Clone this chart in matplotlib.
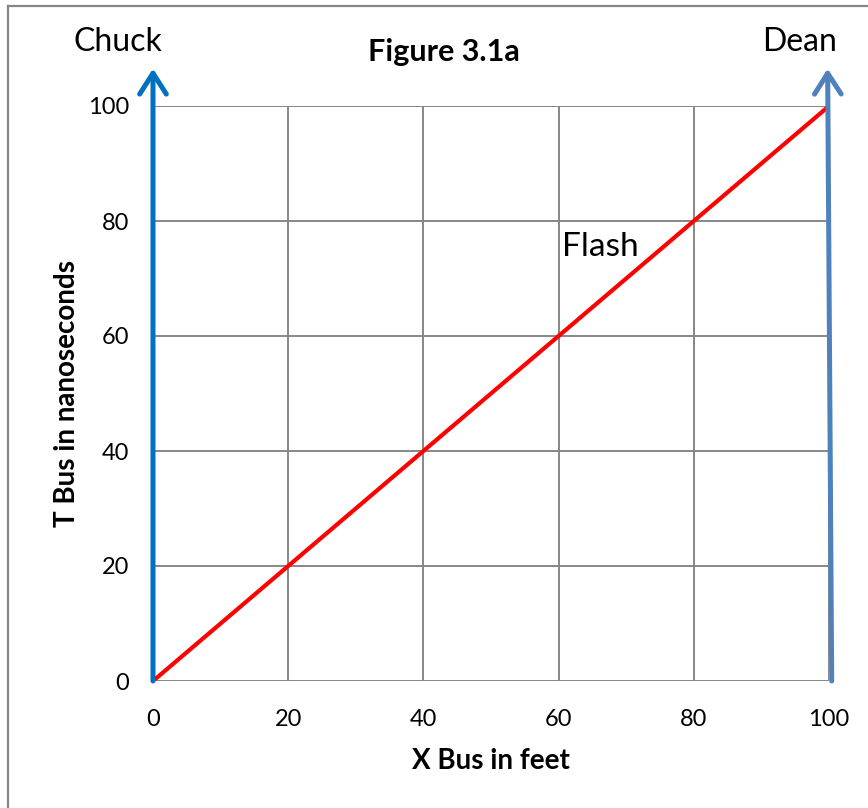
import matplotlib
matplotlib.use('Agg')
import numpy as np
import matplotlib.pyplot as plt
from matplotlib.patches import FancyArrowPatch
from matplotlib.lines import Line2D

# data
flash_x = [0, 100]
flash_t = [0, 100]
chuck_x = [0, 0]
chuck_t = [0, 106.5]
dean_x = [100.4, 99.8]
dean_t = [0, 106.5]
xticks = [0, 20, 40, 60, 80, 100]
yticks = [0, 20, 40, 60, 80, 100]

plt.rcParams['font.family'] = ['Lato', 'DejaVu Sans']

fig = plt.figure(figsize=(8.68, 8.08), dpi=100)
ax = fig.add_axes([153/868, 1-681/808, 676/868, 575/808])

ax.set_xlim(0, 100)
ax.set_ylim(0, 100)
ax.set_xticks(xticks)
ax.set_yticks(yticks)
ax.grid(True, color='#878787', linewidth=1.4)
ax.set_axisbelow(True)
for s in ax.spines.values():
    s.set_visible(False)
ax.tick_params(length=0, labelsize=17, pad=17)
ax.tick_params(axis='x', pad=20)

ax.plot(flash_x, flash_t, color='#ff0000', linewidth=3, solid_capstyle='butt', zorder=3)

def worldline(xs, ts, col):
    arr = FancyArrowPatch((xs[0], ts[0]), (xs[1], ts[1]),
                          arrowstyle='->,head_length=0.75,head_width=0.48',
                          mutation_scale=20, color=col, linewidth=3.6,
                          shrinkA=0, shrinkB=0, clip_on=False, zorder=4,
                          capstyle='round', joinstyle='round')
    ax.add_patch(arr)

worldline(chuck_x, chuck_t, '#0070c0')
worldline(dean_x, dean_t, '#4f81bd')

ax.text(-5.2, 111.1, 'Chuck', fontsize=23, ha='center', va='center')
ax.text(95.7, 111.1, 'Dean', fontsize=23, ha='center', va='center')
ax.text(43, 109.4, 'Figure 3.1a', fontsize=22, fontweight='bold', ha='center', va='center')
ax.text(66.1, 75.5, 'Flash', fontsize=24, ha='center', va='center')

ax.set_xlabel('X Bus in feet', fontsize=20, fontweight='bold', labelpad=13)
ax.set_ylabel('T Bus in nanoseconds', fontsize=20, fontweight='bold', labelpad=6)

# outer frame
fig.add_artist(Line2D([8/868, 8/868], [0, 1-6/808], transform=fig.transFigure,
                      color='#868686', linewidth=1.6))
fig.add_artist(Line2D([8/868, 1], [1-6/808, 1-6/808], transform=fig.transFigure,
                      color='#868686', linewidth=1.6))

fig.savefig('out.png', dpi=100)
